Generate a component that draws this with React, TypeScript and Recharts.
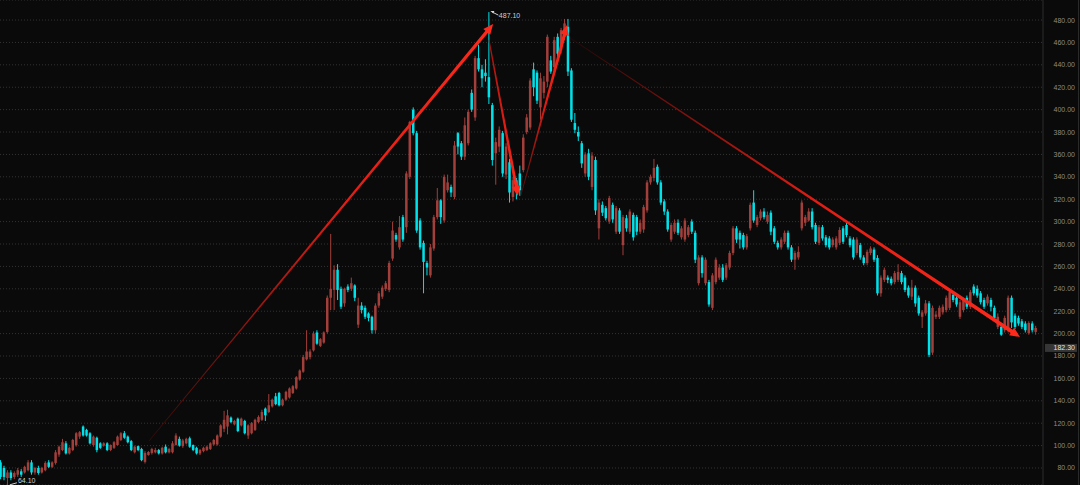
// Candlestick chart with trend arrows, dark trading-terminal style.
import {
  Bar,
  CartesianGrid,
  ComposedChart,
  ReferenceDot,
  ReferenceLine,
  XAxis,
  YAxis,
} from "recharts";

// OHLC per candle (oldest first).
const OPEN = [
  85, 80, 71, 76, 72, 74, 77, 76, 78, 85, 76, 80, 76, 78, 85, 81, 84.5, 92, 96, 102,
  93, 96, 100.5, 108, 117, 114, 111, 100.5, 107, 102, 100, 102, 96, 98, 100.5, 105, 111, 108, 104, 94,
  99.5, 97, 85.4, 91.6, 93.4, 94, 96, 93, 99, 94, 94, 100.5,
  106, 99.5, 102, 106.5, 100.5, 98, 93, 95, 96, 97, 101, 101, 108, 115, 117, 125, 119, 124, 118, 122,
  109, 111, 114, 121, 123, 133, 130, 135, 144, 147, 136, 141, 143, 147, 151, 159, 166, 177, 179, 185,
  201, 189, 192, 201.5, 232, 239, 257,
  240, 227, 242, 240, 243, 208, 225, 223, 218, 215, 203, 225, 233, 240, 239, 267, 288, 277, 304, 295,
  340, 400, 379, 301, 281, 263, 252, 276, 304, 319, 301, 328, 331, 322, 379, 370, 358, 370, 415, 393,
  446, 436, 433, 429, 404, 361, 367,
  379, 342, 353, 322, 337, 343, 346, 380, 384, 436, 433, 402, 415, 425, 444, 438, 465, 453, 465, 474,
  435, 388, 380, 370, 343, 361, 331, 355, 294, 315, 312, 300, 315, 291, 310, 279, 303, 291, 306, 304,
  291, 293, 310, 335, 339, 349, 335, 318, 309, 284, 291, 299, 286, 284, 288, 300, 290,
  245, 268, 245, 246, 223, 246, 250, 259, 250, 259, 272, 294, 290, 288, 277, 294, 317, 297, 303, 309,
  300, 308, 294, 281, 277, 282, 290, 277, 266, 268, 294, 299, 301, 309, 297, 281, 295, 286, 285, 279,
  277,
  281, 294, 297, 285, 284, 272, 279, 268, 263, 272, 275, 267.5, 236, 248, 250, 249, 246, 248, 254, 250,
  241, 233, 241, 232, 215, 218, 227, 183, 215, 215, 219, 221, 223, 234.5, 232, 215, 221, 232, 224, 242,
  240, 236, 230, 227, 230, 223, 206, 206, 203, 203, 232, 216, 214, 211, 209, 200.5, 209, 201.5,
];
const HIGH = [
  87, 82, 78, 78, 77, 80, 79, 82, 87, 87, 81, 82, 81, 86, 87, 86, 96, 100, 106, 104,
  99, 106, 112, 113, 118, 115, 112, 109, 108, 103, 103, 103, 101, 104, 109, 112, 113, 109, 105, 100,
  100, 98, 95, 95, 98, 98, 97, 99, 101, 98, 104, 111,
  108, 106, 107, 108, 101, 99, 97, 99, 100, 103, 106, 110, 119, 131, 132, 126, 123, 125, 125, 123,
  119, 121, 124, 127, 132, 134, 146, 142, 147, 148, 142, 149, 152, 154, 162, 168, 181, 203, 186, 202,
  203, 196, 202, 234, 289, 261, 262,
  242, 241, 244, 250, 244, 232, 228, 225, 219, 216, 227, 238, 243, 247, 265, 300, 290, 305, 306, 345,
  390, 402, 381, 303, 283, 265, 280, 306, 330, 320, 342, 342, 333, 372, 380, 372, 393, 400, 418, 448,
  458, 440, 445, 487.1, 406, 375, 385,
  381, 370, 356, 340, 339, 350, 378, 396, 428, 442, 435, 433, 430, 467, 448, 465, 468, 473, 481, 481,
  437, 397, 385, 372, 362, 365, 362, 358, 320, 318, 314, 323, 317, 314, 312, 306, 306, 311, 308, 306,
  302, 315, 337, 342, 356, 351, 337, 320, 311, 299, 302, 302, 296, 303, 297, 302, 292,
  270, 270, 268, 248, 254, 268, 262, 262, 263, 274, 296, 296, 292, 290, 289, 317, 328, 306, 311, 312,
  309, 310, 296, 283, 286, 292, 292, 279, 274, 278, 319, 306, 312, 312, 299, 297, 297, 288, 287, 286,
  287,
  295, 296, 300, 287, 286, 286, 281, 270, 275, 278, 277, 270, 252, 259, 252, 251, 256, 262, 256, 252,
  243, 248, 243, 234, 221, 230, 229, 225, 220, 225, 226, 234, 240, 236, 234, 230, 232, 234, 239, 244,
  243, 238, 232, 235, 232, 225, 218, 208, 216, 234, 234, 218, 216, 213, 211, 211, 211, 207,
];
const LOW = [
  70, 69, 64.1, 69, 70, 72, 72, 75, 77, 74, 74, 74, 75, 77, 80, 80, 83, 90, 95, 92,
  92, 95, 99, 106, 108, 108, 101, 99, 94, 97, 99, 95, 95, 97, 100, 104, 106, 102, 95, 93,
  95, 86, 84, 91, 92, 93, 92, 92, 93, 93, 93, 100,
  99, 98, 101, 98, 95, 92, 91.5, 94, 95, 96, 100, 100, 107, 112, 110, 120, 118, 112, 117, 110,
  106, 110, 113, 120, 122, 122, 129, 134, 136, 135, 135, 140, 142, 146, 150, 158, 165, 176, 177, 184,
  190, 188, 191, 200, 221, 221, 230,
  222, 224, 237, 238, 229, 205, 218, 213, 211, 200, 200, 223, 231, 238, 237, 265, 282, 275, 282, 290,
  338, 377, 290, 275, 236, 252, 250, 274, 302, 298, 299, 326, 322, 320, 360, 355, 355, 368, 398, 390,
  434, 420, 425, 405, 350, 333, 362,
  340, 338, 317, 318, 320, 323, 344, 378, 382, 412, 405, 391, 410, 420, 432, 435, 446, 450, 462, 430,
  389, 379, 372, 348, 340, 337, 328, 306, 284, 305, 301, 298, 299, 289, 289, 270, 291, 289, 283, 288,
  289, 290, 308, 333, 336, 333, 315, 306, 291, 282, 289, 288, 284, 282, 286, 289, 263,
  243, 250, 243, 224, 221, 244, 248, 246, 248, 257, 270, 281, 276, 275, 275, 292, 299, 295, 301, 302,
  298, 288, 280, 275, 275, 280, 275, 264, 257, 266, 292, 296, 300, 293, 280, 279, 283, 277, 275, 277,
  275,
  279, 280, 286, 277, 266, 270, 266, 261, 261, 270, 264, 234, 233, 246, 245, 243, 244, 246, 244, 237,
  232, 230, 224, 216, 205, 216, 179, 181, 213, 213, 217, 219, 221, 228, 224, 213, 219, 222, 222, 234,
  232, 226, 222, 225, 220, 212, 204, 198, 201, 201, 205, 204, 207, 204, 201, 199, 201, 199,
];
const CLOSE = [
  72, 72, 76, 71, 75.5, 78, 74, 81, 85, 76, 80, 75.5, 80, 84.5, 81, 85, 94, 99, 103, 93,
  98, 105, 111, 112, 109, 109, 102, 108, 96, 98, 102, 96, 100.5, 103, 108, 111, 107, 103, 96, 99,
  96, 87, 93.4, 94.3, 97, 96, 93, 98, 94, 97, 102, 109,
  100, 104.5, 106, 99, 96, 93, 96, 98, 99, 102, 105, 109, 118, 123, 127, 121, 122, 113, 124, 111,
  118, 120, 123, 125.5, 130, 127, 136, 141, 137, 136, 141, 148, 151, 153, 161, 167, 179, 184, 184, 200,
  191, 195, 201, 232, 240, 257, 239,
  224, 240, 239, 245, 232, 225, 221, 215, 214, 203, 225, 236, 241, 245, 263, 292, 284, 295, 284, 343,
  389, 379, 292, 277, 264, 259, 277, 304, 319, 304, 340, 335, 326, 368, 367, 358, 386, 398, 400, 446,
  436, 428, 430, 411, 355, 371, 382,
  343, 367, 326, 337, 328, 328, 375, 393, 426, 420, 408, 428, 425, 465, 434, 462, 450, 471, 477, 434,
  391, 382, 376, 352, 360, 340, 359, 310, 317, 308, 303, 321, 302, 312, 291, 304, 294, 309, 286, 291,
  299, 313, 335, 340, 348, 335, 317, 309, 293, 297, 299, 290, 294, 301, 295, 291, 266,
  268, 254, 266, 226, 252, 266, 259, 248, 261, 272, 294, 284, 284, 277, 287, 315, 301, 304, 309, 304,
  306, 291, 282, 277, 284, 290, 277, 266, 272, 273, 317, 304, 309, 295, 282, 295, 285, 279, 277, 284,
  285,
  292.5, 282, 288, 279, 268, 284, 268, 263, 273, 276, 266, 236, 250, 257, 248, 245, 254, 255, 246, 239,
  234, 241, 227, 218, 219, 227, 181, 223, 217, 223, 224, 232, 237, 230, 226, 228, 230, 224, 237, 236,
  234, 228, 224, 233, 224, 214, 215, 199, 214, 232, 210, 206, 209, 206, 203, 209.5, 203, 205,
];

const Y_TICKS = [80, 100, 120, 140, 160, 180, 200, 220, 240, 260, 280, 300, 320, 340, 360, 380, 400, 420, 440, 460, 480];

// Trend arrows drawn on the chart: [candle index, price].
const ARROW_FROM = [[43, 104], [141.9, 462], [151.2, 323.7], [165.5, 464]];
const ARROW_TO = [[143.1, 476.4], [150.3, 322.9], [164.6, 475.5], [296.3, 197]];

const MAX_MARK = { i: 142, price: 487.1, label: "487.10" };
const MIN_MARK = { i: 2, price: 64.1, label: "64.10" };
const LAST_PRICE = { price: 182.3, label: "182.30" };

const RED = "#a33f3b";
const CYAN = "#00e2ea";
const BG = "#0a0a0a";
const FONT = "Liberation Sans, Arial, sans-serif";

// Ancho y colores de cada flecha (fina/oscura al inicio, gruesa/brillante al final).
const ARROW_STYLE = [
  { w0: 0.7, w1: 3.4, c0: "#3a0c0a", c1: "#ff2a1c" },
  { w0: 1.2, w1: 3.0, c0: "#9a1510", c1: "#ff2a1c" },
  { w0: 0.7, w1: 3.2, c0: "#4a0f0c", c1: "#ff2a1c" },
  { w0: 0.7, w1: 3.8, c0: "#2a0808", c1: "#ff2a1c" },
];

const data = OPEN.map((open, i) => ({
  i,
  open,
  high: HIGH[i],
  low: LOW[i],
  close: CLOSE[i],
  range: [LOW[i], HIGH[i]],
}));

function Candle(props: any) {
  const { x, y, width, height, payload } = props;
  if (!payload || height == null || isNaN(y)) return null;
  const { open, close, high, low } = payload;
  const color = close >= open ? RED : CYAN;
  const k = high === low ? 0 : height / (high - low);
  const cx = x + width / 2;
  const top = y + (high - Math.max(open, close)) * k;
  const bot = y + (high - Math.min(open, close)) * k;
  return (
    <g>
      <line x1={cx} x2={cx} y1={y} y2={y + height} stroke={color} strokeWidth={1} />
      <rect x={x} y={top} width={width} height={Math.max(1, bot - top)} fill={color} />
    </g>
  );
}

function Arrow(props: any) {
  const { x1, y1, x2, y2, idx } = props;
  if ([x1, y1, x2, y2].some((v) => v == null || isNaN(v))) return null;
  const s = ARROW_STYLE[idx];
  const dx = x2 - x1;
  const dy = y2 - y1;
  const len = Math.hypot(dx, dy) || 1;
  const ux = dx / len;
  const uy = dy / len;
  const nx = -uy;
  const ny = ux;
  const hl = 10;
  const hw = 4.5;
  const bx = x2 - ux * hl;
  const by = y2 - uy * hl;
  const pts = [
    [x1 + (nx * s.w0) / 2, y1 + (ny * s.w0) / 2],
    [bx + (nx * s.w1) / 2, by + (ny * s.w1) / 2],
    [bx + nx * hw, by + ny * hw],
    [x2, y2],
    [bx - nx * hw, by - ny * hw],
    [bx - (nx * s.w1) / 2, by - (ny * s.w1) / 2],
    [x1 - (nx * s.w0) / 2, y1 - (ny * s.w0) / 2],
  ]
    .map((p) => p.join(","))
    .join(" ");
  const id = `arrow-grad-${idx}`;
  return (
    <g>
      <defs>
        <linearGradient id={id} gradientUnits="userSpaceOnUse" x1={x1} y1={y1} x2={x2} y2={y2}>
          <stop offset="0%" stopColor={s.c0} />
          <stop offset="55%" stopColor="#e01d14" />
          <stop offset="100%" stopColor={s.c1} />
        </linearGradient>
      </defs>
      <polygon points={pts} fill={`url(#${id})`} />
    </g>
  );
}

function MaxMark(props: any) {
  const { cx, cy } = props;
  return (
    <g>
      <polygon points={`${cx + 1},${cy - 1} ${cx + 5},${cy - 1} ${cx + 4},${cy + 1.5}`} fill="#d8d8d8" />
      <line x1={cx + 3} y1={cy} x2={cx + 9} y2={cy + 3} stroke="#cfcfcf" strokeWidth={1} />
      <text x={cx + 9.5} y={cy + 5.5} fontSize={7} fontFamily={FONT} fill="#cfcfcf">
        {MAX_MARK.label}
      </text>
    </g>
  );
}

function MinMark(props: any) {
  const { cx, cy } = props;
  return (
    <g>
      <line x1={cx + 2} y1={cy - 1} x2={cx + 9} y2={cy - 3} stroke="#cfcfcf" strokeWidth={1} />
      <text x={cx + 10} y={cy - 2.5} fontSize={7} fontFamily={FONT} fill="#cfcfcf">
        {MIN_MARK.label}
      </text>
    </g>
  );
}

function LastPriceLabel(props: any) {
  const vb = props.viewBox || {};
  const x = (vb.x ?? 0) + (vb.width ?? 0);
  const y = vb.y ?? 0;
  return (
    <g>
      <rect x={x + 2} y={y - 9.5} width={32} height={8} fill="#363636" />
      <text x={x + 32} y={y - 3} fontSize={7} fontFamily={FONT} fill="#e4e4e4" textAnchor="end">
        {LAST_PRICE.label}
      </text>
    </g>
  );
}

function PriceTick(props: any) {
  const { x, y, payload } = props;
  return (
    <text x={x + 24} y={y + 2.5} fontSize={7} fontFamily={FONT} fill="#8a8a8a" textAnchor="end">
      {Number(payload.value).toFixed(2)}
    </text>
  );
}

export default function App() {
  return (
    <div style={{ position: "absolute", top: 0, left: 0, width: 1080, height: 485, background: BG }}>
      <ComposedChart width={1080} height={485} data={data} margin={{ top: 0, right: 0, bottom: 0, left: 0 }}>
        <CartesianGrid vertical={false} stroke="#333333" strokeDasharray="1 2" />
        <XAxis dataKey="i" type="number" domain={[-0.3, 303]} allowDataOverflow hide />
        <YAxis
          orientation="right"
          type="number"
          domain={[64.8, 497.9]}
          allowDataOverflow
          ticks={Y_TICKS}
          interval={0}
          width={37}
          axisLine={{ stroke: "#2c2c2c" }}
          tickLine={false}
          tick={<PriceTick />}
        />
        <Bar dataKey="range" barSize={2.5} shape={<Candle />} isAnimationActive={false} />
        {ARROW_FROM.map((from, k) => (
          <ReferenceLine
            key={k}
            segment={[
              { x: from[0], y: from[1] },
              { x: ARROW_TO[k][0], y: ARROW_TO[k][1] },
            ]}
            ifOverflow="visible"
            shape={(p: any) => <Arrow {...p} idx={k} />}
          />
        ))}
        <ReferenceDot x={MAX_MARK.i} y={MAX_MARK.price} ifOverflow="visible" shape={<MaxMark />} />
        <ReferenceDot x={MIN_MARK.i} y={MIN_MARK.price} ifOverflow="visible" shape={<MinMark />} />
        <ReferenceLine
          y={LAST_PRICE.price}
          stroke="none"
          ifOverflow="visible"
          label={(p: any) => <LastPriceLabel {...p} />}
        />
      </ComposedChart>
      <div style={{ position: "absolute", top: 0, left: 1078, width: 1, height: 485, background: "#2a2a2a" }} />
    </div>
  );
}
